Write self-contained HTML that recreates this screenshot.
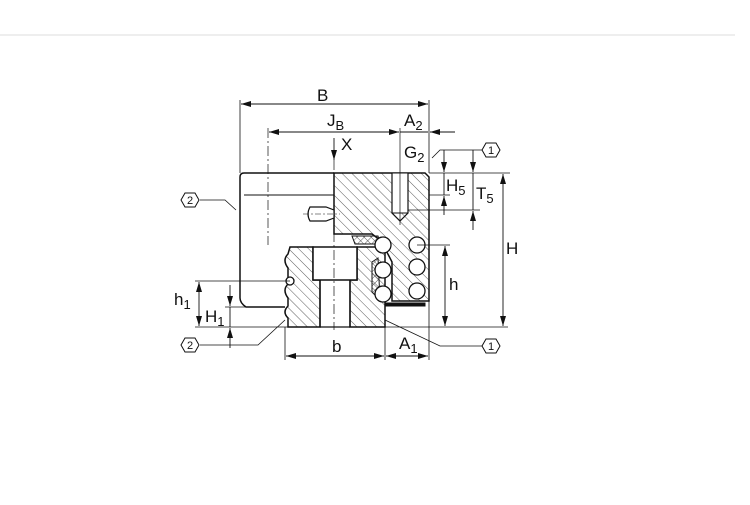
<!DOCTYPE html>
<html><head><style>
body{margin:0;background:#fff;width:750px;height:500px;overflow:hidden}
svg text{font-family:"Liberation Sans",sans-serif;fill:#111}
</style></head><body>
<svg width="750" height="500" viewBox="0 0 750 500" xmlns="http://www.w3.org/2000/svg">
<defs>
<pattern id="h" width="7" height="7" patternUnits="userSpaceOnUse" patternTransform="rotate(-45)"><line x1="0" y1="0" x2="0" y2="7" stroke="#333" stroke-width="0.8"/></pattern>
<pattern id="h2" width="5" height="5" patternUnits="userSpaceOnUse" patternTransform="rotate(45)"><line x1="0" y1="0" x2="0" y2="5" stroke="#333" stroke-width="0.8"/><line x1="0" y1="0" x2="5" y2="0" stroke="#333" stroke-width="0.8"/></pattern>
<marker id="a" markerWidth="10" markerHeight="6" refX="10" refY="3" orient="auto-start-reverse" markerUnits="userSpaceOnUse"><path d="M0,0 L10,3 L0,6z" fill="#111"/></marker>
</defs>
<line x1="0" y1="35" x2="735" y2="35" stroke="#ddd" stroke-width="1"/>
<g stroke="#111" fill="none" stroke-width="1">
<path d="M334,173 H244 Q240,173 240,177 V298 Q240,303 246,307 H285" stroke-width="1.5"/>
<line x1="244" y1="195" x2="334" y2="195"/>
<path d="M334,173 H425 L429,177 V301 H392 V262 Q386,250 380,240 L372,234 H334 Z" fill="url(#h)" stroke-width="1.5"/>
<rect x="392" y="173" width="16" height="40" fill="#fff"/>
<path d="M392,173 V213 L400,221 L408,213 V173" stroke-width="1.2"/>
<rect x="385" y="303" width="40" height="3" fill="#111"/>
<path d="M352,236 H378 L380,244 H355 Z" fill="url(#h2)"/>
<path d="M372,262 L378,258 L380,300 L372,292 Z" fill="url(#h2)"/>
<path d="M290,247 H313 V280 H320 V327 H288 V318 Q282,312 288,306 V298 Q282,290 288,284 V268 Q282,260 288,254 Z" fill="url(#h)" stroke-width="1.5"/>
<path d="M350,280 H357 V247 H378 L385,252 V327 H350 Z" fill="url(#h)" stroke-width="1.5"/>
<path d="M313,247 H357 V280 H313 Z" fill="#fff" stroke-width="1.5"/>
<line x1="320" y1="280" x2="320" y2="327" stroke-width="1.3"/><line x1="350" y1="280" x2="350" y2="327" stroke-width="1.3"/>
<line x1="320" y1="327" x2="350" y2="327" stroke-width="1.3"/>
<g fill="#fff" stroke-width="1.3">
<circle cx="383" cy="245" r="8"/><circle cx="417" cy="245" r="8"/>
<circle cx="383" cy="270" r="8"/><circle cx="417" cy="267" r="8"/>
<circle cx="383" cy="294" r="8"/><circle cx="417" cy="291" r="8"/>
<circle cx="290" cy="281" r="4"/>
</g>
<path d="M310,207 H326 L334,210 V218 L326,221 H310 Q306,214 310,207Z" fill="#fff" stroke-width="1.2"/>
<line x1="303" y1="214" x2="340" y2="214" stroke-dasharray="6 2 2 2" stroke-width="0.6"/>
<line x1="334" y1="160" x2="334" y2="330" stroke-dasharray="10 3 2 3" stroke-width="0.7"/>
<line x1="268" y1="128" x2="268" y2="245" stroke-dasharray="10 3 2 3" stroke-width="0.7"/>
<line x1="400" y1="128" x2="400" y2="225" stroke-width="0.7"/>
<line x1="240" y1="100" x2="240" y2="173" stroke-width="0.8"/>
<line x1="429" y1="100" x2="429" y2="173" stroke-width="0.8"/>
<line x1="241" y1="104" x2="428" y2="104" marker-start="url(#a)" marker-end="url(#a)" stroke-width="0.9"/>
<line x1="269" y1="132" x2="399" y2="132" marker-start="url(#a)" marker-end="url(#a)" stroke-width="0.9"/>
<line x1="400" y1="132" x2="428" y2="132" stroke-width="0.9"/>
<line x1="455" y1="132" x2="430" y2="132" marker-end="url(#a)" stroke-width="0.9"/>
<line x1="334" y1="138" x2="334" y2="160" marker-end="url(#a)" stroke-width="0.9"/>
<line x1="429" y1="173" x2="510" y2="173" stroke-width="0.8"/>
<line x1="429" y1="195" x2="450" y2="195" stroke-width="0.8"/>
<line x1="408" y1="210" x2="480" y2="210" stroke-width="0.8"/>
<line x1="444" y1="150" x2="444" y2="172" marker-end="url(#a)" stroke-width="0.9"/>
<line x1="444" y1="215" x2="444" y2="196" marker-end="url(#a)" stroke-width="0.9"/>
<line x1="444" y1="173" x2="444" y2="195" stroke-width="0.9"/>
<line x1="473" y1="150" x2="473" y2="172" marker-end="url(#a)" stroke-width="0.9"/>
<line x1="473" y1="230" x2="473" y2="211" marker-end="url(#a)" stroke-width="0.9"/>
<line x1="473" y1="173" x2="473" y2="210" stroke-width="0.9"/>
<line x1="503" y1="174" x2="503" y2="326" marker-start="url(#a)" marker-end="url(#a)" stroke-width="0.9"/>
<line x1="417" y1="245" x2="450" y2="245" stroke-width="0.8"/>
<line x1="445" y1="246" x2="445" y2="326" marker-start="url(#a)" marker-end="url(#a)" stroke-width="0.9"/>
<line x1="195" y1="327" x2="508" y2="327" stroke-width="0.8"/>
<line x1="195" y1="281" x2="290" y2="281" stroke-width="0.8"/>
<line x1="225" y1="307" x2="246" y2="307" stroke-width="0.8"/>
<line x1="199" y1="282" x2="199" y2="326" marker-start="url(#a)" marker-end="url(#a)" stroke-width="0.9"/>
<line x1="230" y1="285" x2="230" y2="306" marker-end="url(#a)" stroke-width="0.9"/>
<line x1="230" y1="348" x2="230" y2="328" marker-end="url(#a)" stroke-width="0.9"/>
<line x1="230" y1="307" x2="230" y2="327" stroke-width="0.9"/>
<line x1="285" y1="327" x2="285" y2="360" stroke-width="0.8"/>
<line x1="385" y1="327" x2="385" y2="360" stroke-width="0.8"/>
<line x1="429" y1="301" x2="429" y2="360" stroke-width="0.8"/>
<line x1="286" y1="356" x2="384" y2="356" marker-start="url(#a)" marker-end="url(#a)" stroke-width="0.9"/>
<line x1="386" y1="356" x2="428" y2="356" marker-start="url(#a)" marker-end="url(#a)" stroke-width="0.9"/>
<path d="M200,200 H225 L236,210" stroke-width="0.8"/>
<path d="M200,345 H258 L285,320" stroke-width="0.8"/>
<path d="M482,150 H440 L432,158" stroke-width="0.8"/>
<path d="M482,346 H440 L385,320" stroke-width="0.8"/>
<g fill="#fff" stroke-width="1">
<polygon points="181,200 185,193 195,193 199,200 195,207 185,207"/>
<polygon points="181,345 185,338 195,338 199,345 195,352 185,352"/>
<polygon points="482,150 486,143 496,143 500,150 496,157 486,157"/>
<polygon points="482,346 486,339 496,339 500,346 496,353 486,353"/>
</g>
</g>
<g font-size="11" text-anchor="middle">
<text x="190" y="204">2</text><text x="190" y="349">2</text>
<text x="491" y="154">1</text><text x="491" y="350">1</text>
</g>
<g font-size="17">
<text x="317" y="101">B</text>
<text x="327" y="126">J<tspan font-size="13" dy="4">B</tspan></text>
<text x="404" y="126">A<tspan font-size="13" dy="4">2</tspan></text>
<text x="341" y="150">X</text>
<text x="404" y="158">G<tspan font-size="13" dy="4">2</tspan></text>
<text x="446" y="191">H<tspan font-size="13" dy="4">5</tspan></text>
<text x="476" y="199">T<tspan font-size="13" dy="4">5</tspan></text>
<text x="506" y="254">H</text>
<text x="449" y="290">h</text>
<text x="174" y="305">h<tspan font-size="13" dy="4">1</tspan></text>
<text x="205" y="322">H<tspan font-size="13" dy="4">1</tspan></text>
<text x="332" y="352">b</text>
<text x="399" y="349">A<tspan font-size="13" dy="4">1</tspan></text>
</g>
</svg>
</body></html>
